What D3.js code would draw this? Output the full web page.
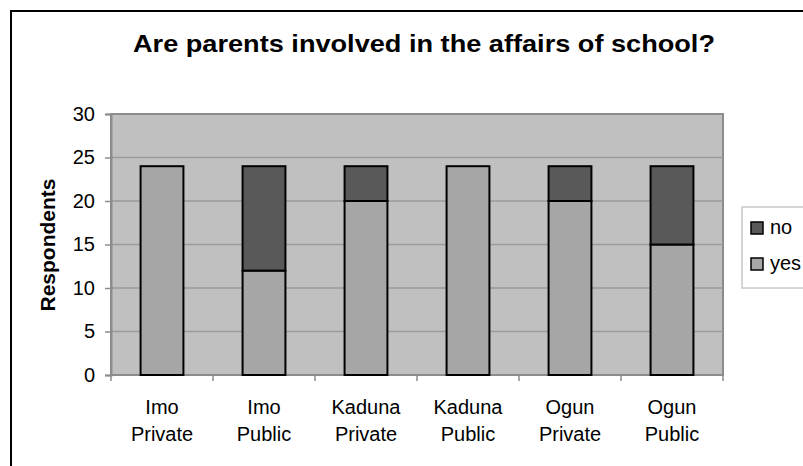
<!DOCTYPE html>
<html>
<head>
<meta charset="utf-8">
<script src="https://cdn.jsdelivr.net/npm/d3@7"></script>
<style>
body { margin: 0; background: #fff; }
text { font-family: Arial, "Liberation Sans", sans-serif; fill: #000; }
</style>
</head>
<body>
<div id="chart"></div>
<script>
// chart size
var w = 803;
var h = 466;

// data
var schools = ["Imo Private", "Imo Public", "Kaduna Private", "Kaduna Public", "Ogun Private", "Ogun Public"];
var yesValues = [24, 12, 20, 24, 20, 15];
var noValues = [0, 12, 4, 0, 4, 9];
var yTicks = [0, 5, 10, 15, 20, 25, 30];
var seriesNames = ["no", "yes"];

var colors = { yes: "#a6a6a6", no: "#595959" };

var plot = { left: 111, right: 723, top: 114, bottom: 375 };

var svg = d3.select("#chart").append("svg")
    .attr("width", w)
    .attr("height", h);

// outer chart frame (runs off the right/bottom edges)
svg.append("rect")
    .attr("x", 11).attr("y", 11)
    .attr("width", 900).attr("height", 600)
    .attr("fill", "#fff")
    .attr("stroke", "#000")
    .attr("stroke-width", 2);

var xScale = d3.scaleBand()
    .domain(schools)
    .range([plot.left, plot.right])
    .paddingInner(0.58)
    .paddingOuter(0.29);

var yScale = d3.scaleLinear()
    .domain([0, 30])
    .range([plot.bottom, plot.top]);

// plot area
svg.append("rect")
    .attr("x", plot.left).attr("y", plot.top)
    .attr("width", plot.right - plot.left)
    .attr("height", plot.bottom - plot.top)
    .attr("fill", "#c0c0c0")
    .attr("stroke", "#8c8c8c")
    .attr("stroke-width", 2);

// gridlines
svg.append("g")
    .selectAll("line")
    .data(yTicks.filter(function(d){ return d > 0 && d < 30; }))
    .enter()
    .append("line")
    .attr("x1", plot.left).attr("x2", plot.right)
    .attr("y1", function(d){ return yScale(d); })
    .attr("y2", function(d){ return yScale(d); })
    .attr("stroke", "#9a9a9a")
    .attr("stroke-width", 1.5);

// y axis
var yAxis = d3.axisLeft(yScale)
    .tickValues(yTicks)
    .tickSize(6)
    .tickPadding(10);

var gy = svg.append("g")
    .attr("transform", "translate(" + plot.left + ",0)")
    .call(yAxis);
gy.select(".domain").attr("stroke", "#8c8c8c").attr("stroke-width", 2);
gy.selectAll(".tick line").attr("stroke", "#8c8c8c").attr("stroke-width", 1.5);
gy.selectAll(".tick text")
    .style("font-size", "20px")
    .style("font-family", "Arial, 'Liberation Sans', sans-serif")
    .attr("fill", "#000");

// x axis: ticks at category boundaries
var step = xScale.step();
var boundaries = d3.range(schools.length + 1);
svg.append("g")
    .selectAll("line")
    .data(boundaries)
    .enter()
    .append("line")
    .attr("x1", function(i){ return plot.left + i * step; })
    .attr("x2", function(i){ return plot.left + i * step; })
    .attr("y1", plot.bottom)
    .attr("y2", plot.bottom + 6)
    .attr("stroke", "#8c8c8c")
    .attr("stroke-width", 1.5);

svg.append("line")
    .attr("x1", plot.left).attr("x2", plot.right)
    .attr("y1", plot.bottom).attr("y2", plot.bottom)
    .attr("stroke", "#8c8c8c")
    .attr("stroke-width", 2);

var xLabels = svg.append("g")
    .selectAll("text")
    .data(schools)
    .enter()
    .append("text")
    .attr("text-anchor", "middle")
    .style("font-size", "20px")
    .attr("x", function(d){ return xScale(d) + xScale.bandwidth() / 2; });
xLabels.append("tspan")
    .attr("x", function(d){ return xScale(d) + xScale.bandwidth() / 2; })
    .attr("y", 414)
    .text(function(d){ return d.split(" ")[0]; });
xLabels.append("tspan")
    .attr("x", function(d){ return xScale(d) + xScale.bandwidth() / 2; })
    .attr("y", 441)
    .text(function(d){ return d.split(" ")[1]; });

// stacked bars
var rows = schools.map(function(s, i){
    return { school: s, yes: yesValues[i], no: noValues[i] };
});
var stack = d3.stack().keys(["yes", "no"]);
var layers = stack(rows);

svg.append("g")
    .selectAll("g")
    .data(layers)
    .enter()
    .append("g")
    .attr("fill", function(d){ return colors[d.key]; })
    .selectAll("rect")
    .data(function(d){ return d.filter(function(p){ return p[1] > p[0]; }); })
    .enter()
    .append("rect")
    .attr("x", function(d){ return xScale(d.data.school); })
    .attr("y", function(d){ return yScale(d[1]); })
    .attr("width", xScale.bandwidth())
    .attr("height", function(d){ return yScale(d[0]) - yScale(d[1]); })
    .attr("stroke", "#000")
    .attr("stroke-width", 2);

// title (original is drawn a bit wide, so stretch it to the same length)
svg.append("text")
    .attr("x", 424)
    .attr("y", 52)
    .attr("text-anchor", "middle")
    .attr("textLength", 582)
    .attr("lengthAdjust", "spacingAndGlyphs")
    .style("font-size", "24px")
    .style("font-weight", "bold")
    .text("Are parents involved in the affairs of school?");

// y axis title
svg.append("text")
    .attr("transform", "translate(55,245) rotate(-90)")
    .attr("text-anchor", "middle")
    .style("font-size", "21px")
    .style("font-weight", "bold")
    .text("Respondents");

// legend
var legend = svg.append("g");
legend.append("rect")
    .attr("x", 742).attr("y", 207)
    .attr("width", 80).attr("height", 81)
    .attr("fill", "#fff")
    .attr("stroke", "#c8c8c8")
    .attr("stroke-width", 1.5);

var items = legend.selectAll("g.item")
    .data(seriesNames)
    .enter()
    .append("g")
    .attr("class", "item")
    .attr("transform", function(d, i){ return "translate(751," + (222 + i * 36) + ")"; });
items.append("rect")
    .attr("width", 12).attr("height", 12)
    .attr("fill", function(d){ return colors[d]; })
    .attr("stroke", "#000")
    .attr("stroke-width", 1.5);
items.append("text")
    .attr("x", 19)
    .attr("y", 12)
    .style("font-size", "20px")
    .text(function(d){ return d; });
</script>
</body>
</html>
